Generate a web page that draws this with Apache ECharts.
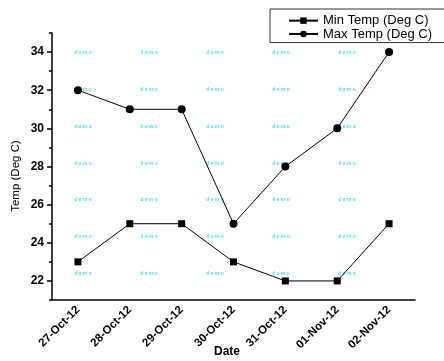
<!DOCTYPE html>
<html>
<head>
<meta charset="utf-8">
<script src="https://cdn.jsdelivr.net/npm/echarts@6/dist/echarts.min.js"></script>
<style>html,body{margin:0;padding:0;background:#fff;}#c{width:444px;height:361px;}</style>
</head>
<body>
<div id="c"></div>
<script>
const categories = ['27-Oct-12','28-Oct-12','29-Oct-12','30-Oct-12','31-Oct-12','01-Nov-12','02-Nov-12'];
const minTemp = [23, 25, 25, 23, 22, 22, 25];
const maxTemp = [32, 31, 31, 25, 28, 30, 34];
const yMajorTicks = [22, 24, 26, 28, 30, 32, 34];
const yMinorTicks = [21, 23, 25, 27, 29, 31, 33, 35];

const FONT = '"Liberation Sans", Arial, sans-serif';
const chart = echarts.init(document.getElementById('c'));

const wm = [];
const wmX = [83, 149, 215, 281, 347];
const wmY = [52.7, 90, 127, 164, 200, 237, 274];
wmY.forEach(y => wmX.forEach(x => wm.push({
  type: 'text', x: x, y: y, z: -10, silent: true,
  style: { text: 'd e m o', fill: '#3fe6ee', font: 'bold 5px ' + FONT, textAlign: 'center', textVerticalAlign: 'middle' }
})));

chart.setOption({
  animation: false,
  backgroundColor: '#fff',
  grid: { left: 52, right: 29, top: 33, bottom: 61, containLabel: false },
  legend: {
    orient: 'vertical', left: 270, top: 9,
    padding: [5, 24, 2, 18], itemGap: 0,
    itemWidth: 29, itemHeight: 8,
    borderColor: '#333', borderWidth: 1,
    textStyle: { fontFamily: FONT, fontSize: 13, lineHeight: 13.3, color: '#000' },
    data: ['Min Temp (Deg C)', 'Max Temp (Deg C)']
  },
  xAxis: [{
    type: 'category', data: categories, boundaryGap: true,
    axisLine: { lineStyle: { color: '#000', width: 1.5 } },
    axisTick: { alignWithLabel: true, length: 5, lineStyle: { color: '#000', width: 1.5 } },
    axisLabel: { rotate: 45, margin: 8, color: '#000', fontFamily: FONT, fontSize: 11.5, fontWeight: 'bold', interval: 0 },
    splitLine: { show: false }
  }, {
    type: 'category', data: categories, boundaryGap: true, position: 'bottom',
    axisLine: { show: false },
    axisTick: { length: 3, interval: 0, lineStyle: { color: '#000', width: 1.5 } },
    axisLabel: { show: false },
    splitLine: { show: false }
  }],
  yAxis: [{
    type: 'value', min: 21, max: 35,
    axisLine: { show: true, lineStyle: { color: '#000', width: 1.5 } },
    axisTick: { show: true, length: 5, customValues: yMajorTicks, lineStyle: { color: '#000', width: 1.5 } },
    axisLabel: { customValues: yMajorTicks, margin: 8, color: '#000', fontFamily: FONT, fontSize: 12, fontWeight: 'bold' },
    splitLine: { show: false }
  }, {
    type: 'value', min: 21, max: 35, position: 'left', offset: 0,
    axisLine: { show: false },
    axisTick: { show: true, length: 3, customValues: yMinorTicks, lineStyle: { color: '#000', width: 1.5 } },
    axisLabel: { show: false },
    splitLine: { show: false }
  }],
  graphic: wm.concat([
    { type: 'text', x: 16, y: 176, rotation: Math.PI / 2,
      style: { text: 'Temp (Deg C)', fill: '#000', font: '11.5px ' + FONT, textAlign: 'center', textVerticalAlign: 'middle' } },
    { type: 'text', x: 227, y: 352,
      style: { text: 'Date', fill: '#000', font: 'bold 12px ' + FONT, textAlign: 'center', textVerticalAlign: 'middle' } }
  ]),
  series: [{
    name: 'Min Temp (Deg C)', type: 'line', data: minTemp,
    symbol: 'rect', symbolSize: 7,
    lineStyle: { color: '#000', width: 1 }, itemStyle: { color: '#000' }
  }, {
    name: 'Max Temp (Deg C)', type: 'line', data: maxTemp,
    symbol: 'circle', symbolSize: 8,
    lineStyle: { color: '#000', width: 1 }, itemStyle: { color: '#000' }
  }]
});
</script>
</body>
</html>
